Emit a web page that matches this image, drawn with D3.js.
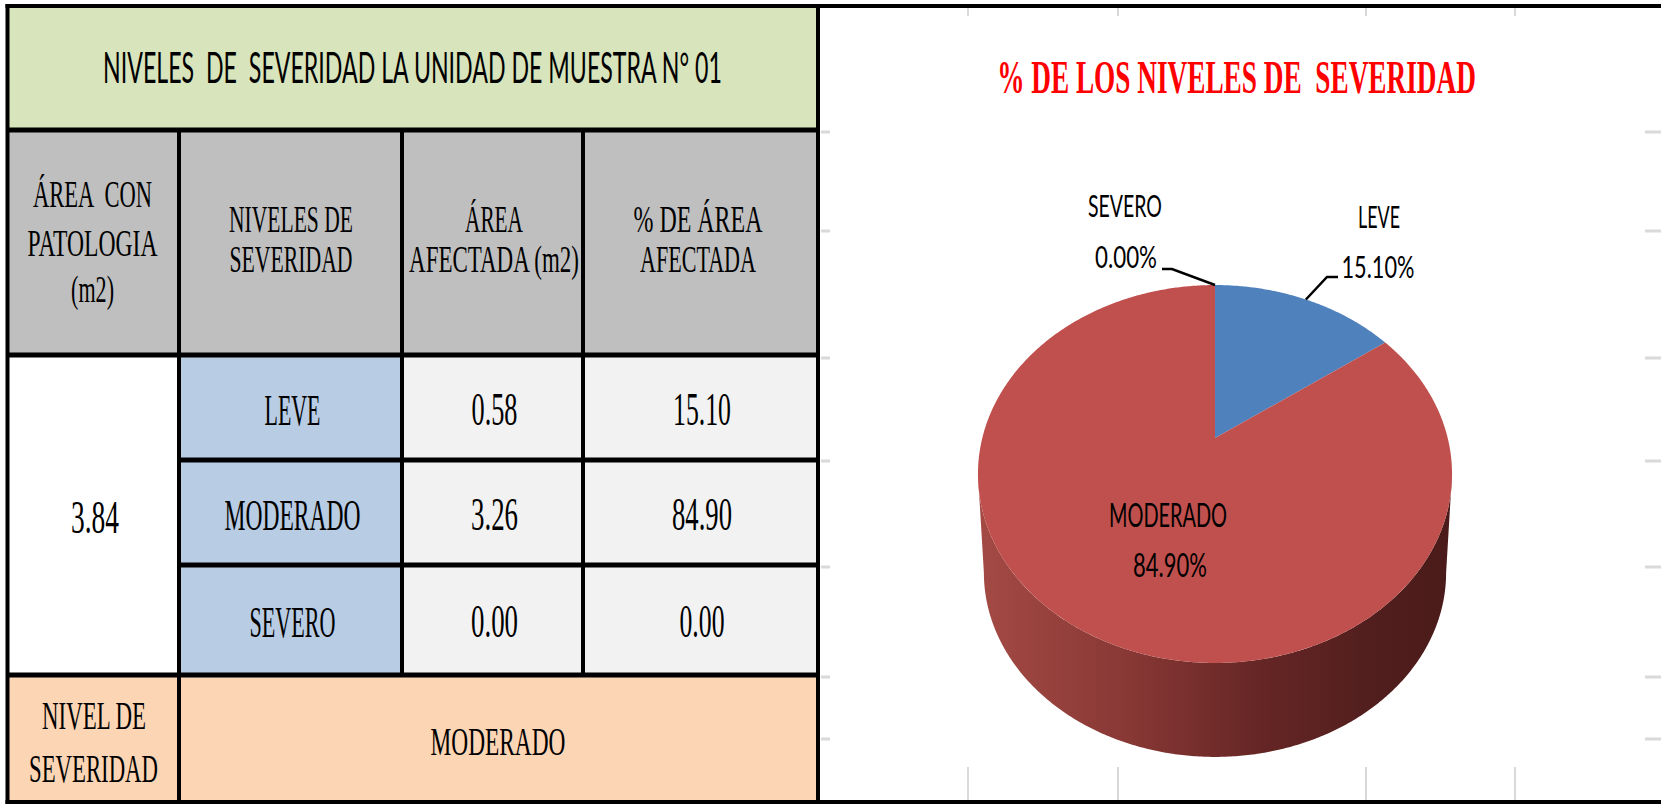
<!DOCTYPE html>
<html>
<head>
<meta charset="utf-8">
<script src="https://cdn.jsdelivr.net/npm/d3@7"></script>
<style>
  html, body { margin: 0; padding: 0; background: #ffffff; }
  svg { display: block; }
</style>
</head>
<body>
<div id="chart"></div>
<script>
// ---------------- DATA ----------------
const tableTitle = "NIVELES  DE  SEVERIDAD LA UNIDAD DE MUESTRA N° 01";
const chartTitle = "% DE LOS NIVELES DE  SEVERIDAD";
const headerLabels = [
  ["ÁREA  CON", "PATOLOGIA", "(m2)"],
  ["NIVELES DE", "SEVERIDAD"],
  ["ÁREA", "AFECTADA (m2)"],
  ["% DE ÁREA", "AFECTADA"]
];
const categories = ["LEVE", "MODERADO", "SEVERO"];
const areaAfectada = [0.58, 3.26, 0.00];
const pctArea = [15.10, 84.90, 0.00];
const areaPatologia = 3.84;
const nivelLabel = ["NIVEL DE", "SEVERIDAD"];
const nivelResult = "MODERADO";

// ---------------- SETUP ----------------
const W = 1661, H = 804;
const svg = d3.select("#chart").append("svg").attr("width", W).attr("height", H);
const SERIF = "'Liberation Serif', 'Times New Roman', serif";
const SANS = "Lato, 'Open Sans', 'Liberation Sans', sans-serif";
const fmt = d3.format(".2f");

// horizontally condensed text: natural glyphs squeezed to the target width
function txt(g, s, cx, by, size, width, family, opts = {}) {
  const t = g.append("text")
    .attr("x", 0)
    .attr("y", 0)
    .attr("text-anchor", "middle")
    .attr("font-size", size)
    .attr("font-family", family)
    .attr("fill", opts.fill || "#000")
    .attr("font-weight", opts.weight || "normal")
    .style("white-space", "pre")
    .text(s);
  const nat = t.node().getComputedTextLength() || width;
  t.attr("transform", `translate(${cx},${by}) scale(${width / nat},1)`);
  return t;
}

// ---------------- TABLE ----------------
const T = svg.append("g");
const colX = [7.5, 179, 402, 583, 818];
const rowY = [6, 130, 355, 460, 565, 675, 802];

const rect = (x0, y0, x1, y1, fill) =>
  T.append("rect").attr("x", x0).attr("y", y0).attr("width", x1 - x0).attr("height", y1 - y0).attr("fill", fill);

rect(colX[0], rowY[0], colX[4], rowY[1], "#d8e4bc");
rect(colX[0], rowY[1], colX[4], rowY[2], "#bfbfbf");
rect(colX[0], rowY[2], colX[1], rowY[5], "#ffffff");
categories.forEach((c, i) => {
  rect(colX[1], rowY[2 + i], colX[2], rowY[3 + i], "#b8cce4");
  rect(colX[2], rowY[2 + i], colX[4], rowY[3 + i], "#f2f2f2");
});
rect(colX[0], rowY[5], colX[4], rowY[6], "#fcd5b4");

txt(T, tableTitle, 412.5, 83, 42, 619, SANS);

const hdr = [
  {cx: 92.5, lines: [[207, 119], [256, 130], [302, 43]]},
  {cx: 291, lines: [[232, 124], [272, 123]]},
  {cx: 494, lines: [[232, 58], [272, 170]]},
  {cx: 698, lines: [[232, 129], [272, 116]]}
];
headerLabels.forEach((lab, j) => {
  lab.forEach((s, k) => txt(T, s, hdr[j].cx, hdr[j].lines[k][0], 37, hdr[j].lines[k][1], SERIF));
});

const catW = [56, 136, 86];
const areaW = [46, 47, 47];
const pctW = [58, 60, 45];
const rowBase = [425, 530, 637];
categories.forEach((c, i) => {
  txt(T, c, 292.5, rowBase[i], 45, catW[i], SERIF);
  txt(T, fmt(areaAfectada[i]), 494.5, rowBase[i], 46, areaW[i], SERIF);
  txt(T, fmt(pctArea[i]), 702, rowBase[i], 46, pctW[i], SERIF);
});
txt(T, fmt(areaPatologia), 95, 533, 46, 48, SERIF);

txt(T, nivelLabel[0], 94, 729, 41, 104, SERIF);
txt(T, nivelLabel[1], 93.5, 782, 41, 129, SERIF);
txt(T, nivelResult, 498, 755, 41, 135, SERIF);

const line = (x1, y1, x2, y2, w) =>
  T.append("line").attr("x1", x1).attr("y1", y1).attr("x2", x2).attr("y2", y2)
    .attr("stroke", "#000").attr("stroke-width", w);
line(5.5, 6, W, 6, 4);
line(5.5, 802, W, 802, 4);
line(colX[0], 4, colX[0], 804, 4);
line(colX[4], 4, colX[4], 804, 4);
line(colX[0], rowY[1], colX[4], rowY[1], 5);
line(colX[0], rowY[2], colX[4], rowY[2], 5);
line(colX[1], rowY[3], colX[4], rowY[3], 5);
line(colX[1], rowY[4], colX[4], rowY[4], 5);
line(colX[0], rowY[5], colX[4], rowY[5], 5);
[colX[1], colX[2], colX[3]].forEach(x => line(x, rowY[1], x, rowY[5], 4));
line(colX[1], rowY[5], colX[1], rowY[6], 4);

// ---------------- CHART ----------------
const C = svg.append("g");
const dashY = [132, 231, 358, 461, 567, 677, 739];
dashY.forEach(y => {
  C.append("rect").attr("x", 1645).attr("y", y - 1.5).attr("width", 16).attr("height", 3).attr("fill", "#d9d9d9");
  C.append("rect").attr("x", 821).attr("y", y - 1.5).attr("width", 9).attr("height", 3).attr("fill", "#d9d9d9");
});
[968, 1118, 1366, 1515].forEach(x => {
  C.append("rect").attr("x", x - 1).attr("y", 8).attr("width", 2).attr("height", 8).attr("fill", "#d9d9d9");
  C.append("rect").attr("x", x - 1).attr("y", 767).attr("width", 2).attr("height", 33).attr("fill", "#d9d9d9");
});

txt(C, chartTitle, 1236.5, 93, 47, 479, SERIF, {fill: "#ff0000", weight: "bold"});

const P = {x0: 1215, y0: 438, A: 232.7, B: 182.1, k: 0.1905, depth: 99.6, s: 0.975};
function proj(theta, f = 1, s = 1, dy = 0) {
  const u = f * Math.sin(theta), v = f * Math.cos(theta), w = 1 + P.k * v;
  return [P.x0 + s * P.A * u / w, P.y0 + dy - s * P.B * v / w];
}
const arcPts = (a0, a1, f, s, dy) => {
  const n = Math.max(2, Math.ceil(Math.abs(a1 - a0) / (Math.PI / 360)));
  return d3.range(n + 1).map(i => proj(a0 + (a1 - a0) * i / n, f, s, dy));
};

const pie = d3.pie().sort(null).value(d => d)(pctArea);
const colors = d3.scaleOrdinal().domain(categories).range(["#4f81bd", "#c0504d", "#9bbb59"]);

const defs = svg.append("defs");
const grad = defs.append("linearGradient").attr("id", "sideGrad")
  .attr("gradientUnits", "userSpaceOnUse").attr("x1", 977).attr("y1", 0).attr("x2", 1451).attr("y2", 0);
[[0, "#a44a45"], [0.3, "#8a3936"], [0.6, "#652625"], [0.85, "#501e1d"], [1, "#4a1b1a"]]
  .forEach(([o, c]) => grad.append("stop").attr("offset", o).attr("stop-color", c));

const th1 = Math.acos(-P.k), th2 = 2 * Math.PI - Math.acos(-P.k);
const lineGen = d3.line();
pie.forEach((d, i) => {
  const a0 = Math.max(d.startAngle, th1), a1 = Math.min(d.endAngle, th2);
  if (a1 <= a0) return;
  const top = arcPts(a0, a1, 1, 1, 0);
  const bot = arcPts(a1, a0, 1, P.s, P.depth);
  C.append("path").attr("d", lineGen(top.concat(bot)) + "Z")
    .attr("fill", i === 1 ? "url(#sideGrad)" : d3.color(colors(categories[i])).darker(1.2));
});

pie.forEach((d, i) => {
  if (d.endAngle - d.startAngle <= 0) return;
  const pts = [proj(0, 0)].concat(arcPts(d.startAngle, d.endAngle, 1, 1, 0));
  C.append("path").attr("d", lineGen(pts) + "Z").attr("fill", colors(categories[i]));
});

const fmtPct = v => fmt(v) + "%";
const lab = [
  {name: [1379, 228, 42], val: [1378, 278, 73], leader: true},
  {name: [1168, 527, 118], val: [1170, 577, 74], leader: false},
  {name: [1125, 217, 74], val: [1126, 268, 62], leader: true}
];
pie.forEach((d, i) => {
  const L = lab[i];
  const fs = i === 1 ? 33 : 31;
  txt(C, categories[i], L.name[0], L.name[1], fs, L.name[2], SANS);
  txt(C, fmtPct(pctArea[i]), L.val[0], L.val[1], fs, L.val[2], SANS);
  if (L.leader) {
    const mid = (d.startAngle + d.endAngle) / 2;
    const p = proj(mid, 1);
    const pts = i === 0 ? [p, [1327, 277], [1338, 277]] : [p, [1172, 269], [1162, 269]];
    C.append("path").attr("d", lineGen(pts)).attr("fill", "none")
      .attr("stroke", "#000").attr("stroke-width", 2.5);
  }
});
</script>
</body>
</html>
